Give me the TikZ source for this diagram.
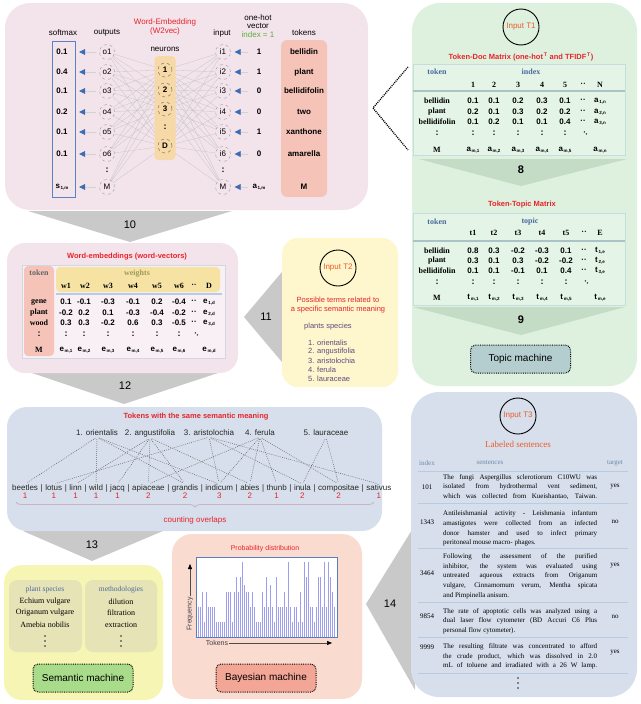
\documentclass[tikz,border=0pt]{standalone}
\usepackage{fontspec}
\setmainfont{Liberation Sans}
\newfontfamily\serf{Liberation Serif}
\usetikzlibrary{arrows.meta,positioning,decorations.pathreplacing,calc}
\newcommand\fsz[1]{\fontsize{#1}{#1}\selectfont}
\newcommand\fszb[2]{\fontsize{#1}{#2}\selectfont}
\newcommand\sbs[1]{\raisebox{-1pt}{\fontsize{4.5}{5}\selectfont\,#1}}
\newcommand\jl[1]{\makebox[154pt][s]{#1}}
\definecolor{pinkbg}{HTML}{F3E4EB}
\definecolor{greenbg}{HTML}{DDF1DE}
\definecolor{tabfill}{HTML}{E4F4E6}
\definecolor{tabborder}{HTML}{C6DCDE}
\definecolor{hlinec}{HTML}{A9C3C6}
\definecolor{chev}{HTML}{C4DBC6}
\definecolor{topicfill}{HTML}{B4CDCE}
\definecolor{yellowbg}{HTML}{FEF6CC}
\definecolor{tokensbg}{HTML}{D6DFEB}
\definecolor{semanticbg}{HTML}{F6F5B3}
\definecolor{semin}{HTML}{E6E3B6}
\definecolor{semgreen}{HTML}{A8DC8A}
\definecolor{bayesbg}{HTML}{FADBD0}
\definecolor{bayesbox}{HTML}{F3A596}
\definecolor{arrowgray}{HTML}{C9C9C9}
\definecolor{tokfill}{HTML}{F5C3B8}
\definecolor{neufill}{HTML}{F6D9A6}
\definecolor{arrowblue}{HTML}{3C6DB4}
\definecolor{softblue}{HTML}{5A82BE}
\definecolor{headblue}{HTML}{4A6A9E}
\definecolor{redtxt}{HTML}{E8232A}
\definecolor{inred}{HTML}{EE5A2A}
\definecolor{idxgreen}{HTML}{5BAE3E}
\definecolor{purpletxt}{HTML}{5D4D80}
\definecolor{weightfill}{HTML}{F6E2A2}
\definecolor{weighttxt}{HTML}{9B9A5E}
\definecolor{barfill}{HTML}{9E9EF0}
\definecolor{chartborder}{HTML}{5A7DBE}
\definecolor{bracecol}{HTML}{C9B3C4}
\definecolor{sepline}{HTML}{B8CBE0}
\definecolor{weborder}{HTML}{D0D8E4}
\pgfdeclarelayer{panels}
\pgfdeclarelayer{links}
\pgfsetlayers{panels,links,main}
\tikzset{
 every node/.style={inner sep=1pt},
 hdr/.style={font=\fsz{8}},
 bv/.style={font=\fsz{8}\bfseries},
 outc/.style={circle,draw=gray!75,dashed,fill=pinkbg,minimum size=15pt,inner sep=0pt,font=\fsz{8}},
 neu/.style={circle,draw=black!60,dashed,fill=neufill,minimum size=14pt,inner sep=0pt,font=\fsz{8}\bfseries},
 barrow/.style={draw=gray!35,line width=0.7pt,-{Triangle[length=6pt,width=6pt,color=arrowblue]}},
 nnline/.style={draw=gray!45,line width=0.3pt},
 tlab/.style={font=\serf\fsz{8}\bfseries},
 thd/.style={font=\serf\fsz{8}\bfseries,text=headblue},
 tcell/.style={font=\fsz{8}\bfseries},
 dotc/.style={font=\fsz{9}\bfseries},
 ttl/.style={font=\fsz{7.5}\bfseries,text=redtxt},
 gnum/.style={font=\fsz{11}},
 machine/.style={draw=black,line width=1pt,dash pattern=on 0.8pt off 1pt,rounded corners=5pt,minimum width=100pt,minimum height=28pt,font=\fsz{10}},
 incirc/.style={circle,draw=black,line width=0.9pt,minimum size=36pt,inner sep=0pt,font=\fsz{8},text=inred},
 dotlink/.style={draw=gray!75!black,line width=0.5pt,dash pattern=on 0.8pt off 1.2pt,shorten <=2pt,shorten >=2pt},
 tk/.style={font=\fsz{8},inner sep=0pt,text=black!85},
 cnt/.style={font=\fsz{8},text=redtxt},
 ser/.style={font=\serf\fszb{7}{9.7},align=left,inner sep=0pt,anchor=west},
 serc/.style={font=\serf\fsz{7}},
 plist/.style={font=\fsz{7.5},text=purpletxt,anchor=west},
 semtxt/.style={font=\serf\fsz{8}},
 semhd/.style={font=\serf\fsz{7.5},text=headblue},
 vdot/.style={fill=black!85},
}
\begin{document}
\begin{tikzpicture}[x=1pt,y=-1pt]
\useasboundingbox (0,0) rectangle (640,704);

\begin{pgfonlayer}{panels}
 \fill[arrowgray] (28,211) -- (232,211) -- (130,242) -- cycle;
 \fill[arrowgray] (32,373) -- (218,373) -- (124,404) -- cycle;
 \fill[arrowgray] (292,260) -- (292,374) -- (244,317) -- cycle;
 \fill[arrowgray] (23,531) -- (163,531) -- (92,561) -- cycle;
 \fill[arrowgray] (415,525) -- (415,690) -- (366,604) -- cycle;
 \fill[pinkbg, rounded corners=25pt] (5,3) rectangle (368,210);
 \fill[greenbg, rounded corners=28pt] (412,3) rectangle (637,386);
 \fill[pinkbg, rounded corners=18pt] (7,243) rectangle (238,373);
 \fill[yellowbg, rounded corners=16pt] (282,238) rectangle (398,387);
 \fill[tokensbg, rounded corners=20pt] (7,407) rectangle (382,531);
 \fill[semanticbg, rounded corners=18pt] (4,565) rectangle (163,700);
 \fill[bayesbg, rounded corners=20pt] (172,534) rectangle (362,699);
 \fill[tokensbg, rounded corners=28pt] (411,392) rectangle (637,697);
\end{pgfonlayer}

% arrow numbers
\node[gnum] (a10) at (130,225) {10};
\node[gnum] (a11) at (266,317) {11};
\node[gnum] (a12) at (125,386) {12};
\node[gnum] (a13) at (92,545) {13};
\node[gnum] (a14) at (390,604) {14};

% ================= Word embedding network =================
\node[hdr, text=redtxt, align=center, font=\fszb{8}{9}] (w2v) at (165,27) {Word-Embedding\\(W2vec)};
\node[hdr] (smx) at (63,33) {softmax};
\node[hdr] (outs) at (107,33) {outputs};
\node[hdr] (neur) at (165,49) {neurons};
\node[hdr] (inp) at (222,33) {input};
\node[hdr, align=center, font=\fszb{8}{8.5}] (oh) at (258,26) {one-hot\\vector\\\textcolor{idxgreen}{index = 1}};
\node[hdr] (tokh) at (304,33) {tokens};

\node[draw=softblue, line width=0.8pt, minimum width=23pt, minimum height=156pt, inner sep=0pt] (smbox) at (63.5,119) {};
\node[fill=tokfill, rounded corners=6pt, minimum width=46pt, minimum height=157pt, inner sep=0pt] (tokbox) at (304,118.5) {};
\node[fill=neufill, rounded corners=4pt, minimum width=21pt, minimum height=104pt, inner sep=0pt] (neubox) at (165,108) {};

\foreach \y/\o/\ii/\s/\v/\t [count=\k] in {52/o1/i1/0.1/1/bellidin, 72/o2/i2/0.4/1/plant, 91/o3/i3/0.1/0/bellidifolin, 112/o4/i4/0.2/0/two, 132/o5/i5/0.1/1/xanthone, 154/o6/i6/0.1/0/amarella, 187/M/M/{s\sbs{1,m}}/{a\sbs{1,m}}/M} {
  \node[outc] (o\k) at (107,\y) {\o};
  \node[outc] (i\k) at (223,\y) {\ii};
  \node[bv, minimum width=20pt] (s\k) at (62,\y) {\s};
  \node[bv, minimum width=20pt] (v\k) at (259,\y) {\v};
  \node[bv] (t\k) at (304,\y) {\t};
  \draw[barrow, shorten <=3pt, shorten >=7pt] (o\k) -- (s\k);
  \draw[barrow, shorten <=1pt, shorten >=4pt] (v\k) -- (i\k);
}
\foreach \b/\y in {1/70,2/90,3/109,D/146} \node[neu] (n\b) at (165,\y) {\b};
\node[dotc] (odots) at (107,170) {:};
\node[dotc] (idots) at (223,170) {:};
\node[dotc] (ndots) at (165,127) {:};
\begin{pgfonlayer}{links}
\foreach \a in {1,...,7} \foreach \b in {1,2,3,D} {
  \draw[nnline] (o\a) -- (n\b);
  \draw[nnline] (n\b) -- (i\a);
}
\end{pgfonlayer}

% zoom triangle
\coordinate (zt) at (408,67);
\coordinate (zm) at (373,108);
\coordinate (zb) at (408,150);
\draw[line width=1.3pt, dash pattern=on 1pt off 1pt] (zt) -- (zm) -- (zb);

% ================= Green panel =================
\node[incirc] (in1) at (521,27) {Input T1};
\node[ttl] (tdm) at (521,57) {Token-Doc Matrix (one-hot\textsuperscript{\,T} and TFIDF\textsuperscript{\,T})};
\draw[tabborder, fill=tabfill, line width=0.6pt] (413,64) rectangle (625,155);
\draw[hlinec, line width=1.6pt] (413,91) -- (625,91);
\node[thd] (tdtok) at (437,72) {token};
\node[thd] (tdidx) at (531,72) {index};
\foreach \h [count=\c] in {1,2,3,4,5,··,N} {
  \pgfmathsetmacro\xx{{473,494,518,542,565,583,600}[\c-1]}
  \node[tlab] (dh\c) at (\xx,85) {\h};
}
\foreach \y/\lab/\vals [count=\r] in {101/bellidin/{0.1,0.1,0.2,0.3,0.1,··,{a\sbs{1,n}}}, 112/plant/{0.2,0.1,0.3,0.2,0.2,··,{a\sbs{2,n}}}, 122/bellidifolin/{0.1,0.2,0.1,0.1,0.4,··,{a\sbs{3,n}}}, 150/M/{{a\sbs{m,1}},{a\sbs{m,2}},{a\sbs{m,3}},{a\sbs{m,4}},{a\sbs{m,5}},{},{a\sbs{m,n}}}} {
  \node[tlab] (dl\r) at (437,\y) {\lab};
  \foreach \v [count=\c] in \vals {
    \pgfmathsetmacro\xx{{473,494,518,542,565,583,600}[\c-1]}
    \node[tcell] (d\r-\c) at (\xx,\y) {\v};
  }
}
\foreach \x [count=\c] in {437,473,494,518,542,565} \node[dotc] (dd\c) at (\x,133) {:};
\node[tcell, rotate=-45] (ddg) at (585,134) {··};
\fill[chev] (419,159) -- (627,159) -- (521,186) -- cycle;
\node[gnum, font=\fsz{11}\bfseries] (n8) at (521,170) {8};

\node[ttl] (ttm) at (522,205) {Token-Topic Matrix};
\draw[tabborder, fill=tabfill, line width=0.6pt] (413,213) rectangle (625,305);
\draw[hlinec, line width=1.6pt] (413,241) -- (625,241);
\node[thd] (tttok) at (437,222) {token};
\node[thd] (tttop) at (530,222) {topic};
\foreach \h [count=\c] in {t1,t2,t3,t4,t5,··,E} {
  \pgfmathsetmacro\xx{{473,494,518,542,566,584,600}[\c-1]}
  \node[tlab] (th\c) at (\xx,233) {\h};
}
\foreach \y/\lab/\vals [count=\r] in {251/bellidin/{0.8,0.3,-0.2,-0.3,0.1,··,{t\sbs{1,e}}}, 261/plant/{0.3,0.1,0.3,-0.2,-0.2,··,{t\sbs{2,e}}}, 271/bellidifolin/{0.1,0.1,-0.1,0.1,0.4,··,{t\sbs{3,e}}}, 298/M/{{t\sbs{m,1}},{t\sbs{m,2}},{t\sbs{m,3}},{t\sbs{m,4}},{t\sbs{m,5}},{},{t\sbs{m,e}}}} {
  \node[tlab] (tl\r) at (437,\y) {\lab};
  \foreach \v [count=\c] in \vals {
    \pgfmathsetmacro\xx{{473,494,518,542,566,584,600}[\c-1]}
    \node[tcell] (t\r-\c) at (\xx,\y) {\v};
  }
}
\foreach \x [count=\c] in {437,473,494,518,542,566} \node[dotc] (td\c) at (\x,282) {:};
\node[tcell, rotate=-45] (tdg) at (586,283) {··};
\fill[chev] (413,307) -- (625,307) -- (521,335) -- cycle;
\node[gnum, font=\fsz{11}\bfseries] (n9) at (521,320) {9};
\node[machine, fill=topicfill] (topic) at (520.5,359) {Topic machine};

% ================= Word-embeddings table =================
\node[ttl] (wet) at (127,257) {Word-embeddings (word-vectors)};
\draw[weborder, fill=white!45!pinkbg, line width=0.6pt] (22,265) rectangle (225,358);
\fill[tokfill, rounded corners=4pt] (24,266) rectangle (54,356);
\fill[weightfill, rounded corners=4pt] (56,267) rectangle (220,292);
\draw[sepline, line width=1.2pt] (56,294) -- (222,294);
\node[tlab, text=black!60] (wtok) at (39,273) {token};
\node[tlab, text=weighttxt] (wwt) at (137,274) {weights};
\foreach \h [count=\c] in {w1,w2,w3,w4,w5,w6,··,D} {
  \pgfmathsetmacro\xx{{66,85,108,133,157,179,194,209}[\c-1]}
  \node[tlab] (wh\c) at (\xx,286) {\h};
}
\foreach \y/\lab/\vals [count=\r] in {302/gene/{0.1,-0.1,-0.3,-0.1,0.2,-0.4,··,{e\sbs{1,d}}}, 313/plant/{-0.2,0.2,0.1,-0.3,-0.4,-0.2,··,{e\sbs{2,d}}}, 323/wood/{0.3,0.3,-0.2,0.6,0.3,-0.5,··,{e\sbs{3,d}}}, 350/M/{{e\sbs{m,1}},{e\sbs{m,2}},{e\sbs{m,3}},{e\sbs{m,4}},{e\sbs{m,5}},{e\sbs{m,6}},{},{e\sbs{m,d}}}} {
  \node[tlab] (wl\r) at (39,\y) {\lab};
  \foreach \v [count=\c] in \vals {
    \pgfmathsetmacro\xx{{66,84,108,133,157,179,194,209}[\c-1]}
    \node[tcell] (w\r-\c) at (\xx,\y) {\v};
  }
}
\foreach \x [count=\c] in {39,66,84,108,133,157,179} \node[dotc] (wd\c) at (\x,334) {:};
\node[tcell, rotate=-45] (wdg) at (196,335) {··};

% ================= Input T2 =================
\node[incirc] (in2) at (338,268) {Input T2};
\node[font=\fszb{7.5}{9.5}, text=redtxt, align=center] (pt) at (338,305) {Possible terms related to\\a specific semantic meaning};
\node[plist] (ps) at (303,327) {plants species};
\foreach \w/\y [count=\k] in {1. orientalis/343, 2. angustifolia/352, 3. aristolochia/361, 4. ferula/370, 5. lauraceae/379}
  \node[plist] (pl\k) at (307,\y) {\w};

% ================= Tokens with same meaning =================
\node[ttl] (tsm) at (196,417) {Tokens with the same semantic meaning};
\foreach \w/\x [count=\k] in {1. orientalis/97, 2. angustifolia/150, 3. aristolochia/209, 4. ferula/260, 5. lauraceae/326}
  \node[tk, inner sep=1pt] (q\k) at (\x,433) {\w};
\node[tk, anchor=base west] (b1) at (12,490) {beetles};
\foreach \w [count=\k from 2, remember=\k as \p (initially 1)] in {lotus,linn,wild,jacq,apiaceae,grandis,indicum,abies,thunb,inula,compositae,sativus} {
  \node[tk, anchor=base west] (bar\p) at (b\p.base east) {\kern2.2pt|\kern2.2pt};
  \node[tk, anchor=base west] (b\k) at (bar\p.base east) {\w};
}
\coordinate (cntl) at (0,496);
\foreach \k/\n in {1/1,2/1,3/1,4/1,5/1,6/2,7/2,8/3,9/2,10/1,11/2,12/2,13/1}
  \node[cnt] (c\k) at (b\k.center |- cntl) {\n};
\begin{pgfonlayer}{links}
\foreach \a/\b in {1/1,3/2,2/3,1/4,2/5,2/6,4/6,1/7,2/7,1/8,3/8,4/8,4/9,2/9,4/10,3/11,5/11,4/12,5/12,3/13}
  \draw[dotlink] (q\a.south) -- (b\b.north);
\end{pgfonlayer}
\coordinate (brR) at (374,502);
\coordinate (brL) at (16,502);
\draw[bracecol, line width=0.8pt, decorate, decoration={brace, amplitude=5pt}] (brR) -- (brL);
\node[cnt] (cov) at (195,520) {counting overlaps};

% ================= Semantic machine =================
\fill[semin, rounded corners=8pt] (9,580) rectangle (82,652);
\fill[semin, rounded corners=8pt] (85,580) rectangle (157,652);
\node[semhd] (sph) at (45,590) {plant species};
\node[semhd] (mth) at (121,590) {methodologies};
\foreach \w/\y [count=\k] in {Echium vulgare/602, Origanum vulgare/613, Amebia nobilis/625}
  \node[semtxt] (sp\k) at (45,\y) {\w};
\foreach \w/\y [count=\k] in {dilution/602, filtration/613, extraction/625}
  \node[semtxt] (me\k) at (121,\y) {\w};
\foreach \x in {45,121} \foreach \y in {636,641,646} \fill[vdot] (\x,\y) circle (0.9);
\node[machine, fill=semgreen] (sem) at (83,678) {Semantic machine};

% ================= Bayesian machine =================
\node[font=\fsz{7}, text=redtxt] (pd) at (265,549) {Probability distribution};
\node[fill=white, minimum width=140pt, minimum height=79pt, inner sep=0pt] (chart) at (267,597.5) {};
\foreach \h [count=\k from 0] in {30,30,45,15,45,30,30,30,30,15,15,15,15,15,45,45,45,15,45,60,45,60,75,52,45,45,30,45,30,15,15,15,45,30,60,30,52,30,15,60,30,30,30,45,30,75,30,15,30,30,15,45,15,75,60,75,30,30,15,30,60,60,30,75,30,75,60,45,30}
  \fill[barfill] ({198.3+2*\k-0.8},636.6) rectangle ({198.3+2*\k+0.8},{636.6-\h});
\draw[chartborder, line width=0.8pt] (chart.south west) rectangle (chart.north east);
\node[font=\fsz{7}, text=black!75, rotate=90] (freq) at (190,614) {Frequency};
\coordinate (ytip) at (190,564);
\draw[black!70, line width=0.5pt, -{Triangle[length=5pt,width=4pt,color=black]}] (freq.east) -- (ytip);
\node[font=\fsz{7}, text=black!75] (tokx) at (217,643) {Tokens};
\coordinate (xtip) at (332,643);
\draw[black!70, line width=0.5pt, -{Triangle[length=5pt,width=4pt,color=black]}] (tokx.east) -- (xtip);
\node[machine, fill=bayesbox] (bay) at (266,678) {Bayesian machine};

% ================= Input T3 =================
\node[incirc] (in3) at (518,416) {Input T3};
\node[font=\serf\fsz{9}, text=inred] (ls) at (518,444) {Labeled sentences};
\node[serc, text=headblue!80] (hidx) at (427,463) {index};
\node[serc, text=headblue!80] (hsen) at (490,463) {sentences};
\node[serc, text=headblue!80] (htgt) at (615,463) {target};
\draw[sepline, line width=1pt] (418,471) -- (628,471);
\foreach \y in {503,548,602,637,673} \draw[sepline, line width=0.8pt] (418,\y) -- (628,\y);

\node[serc] (x1) at (427,487) {101};
\node[ser] (r1) at (443,487) {\jl{The fungi Aspergillus sclerotiorum C10WU was}\\\jl{isolated from hydrothermal vent sediment,}\\\jl{which was collected from Kueishantao, Taiwan.}};
\node[serc] (g1) at (615,487) {yes};

\node[serc] (x2) at (427,522) {1343};
\node[ser] (r2) at (443,528.5) {\jl{Antileishmanial activity - Leishmania infantum}\\\jl{amastigotes were collected from an infected}\\\jl{donor hamster and used to infect primary}\\peritoneal mouse macro- phages.};
\node[serc] (g2) at (615,522) {no};

\node[serc] (x3) at (427,573) {3464};
\node[ser] (r3) at (443,576) {\jl{Following the assessment of the purified}\\\jl{inhibitor, the system was evaluated using}\\\jl{untreated aqueous extracts from Origanum}\\\jl{vulgare, Cinnamomum verum, Mentha spicata}\\and Pimpinella anisum.};
\node[serc] (g3) at (615,566) {yes};

\node[serc] (x4) at (427,616) {9854};
\node[ser] (r4) at (443,621) {\jl{The rate of apoptotic cells was analyzed using a}\\\jl{dual laser flow cytometer (BD Accuri C6 Plus}\\personal flow cytometer).};
\node[serc] (g4) at (615,617) {no};

\node[serc] (x5) at (427,647) {9999};
\node[ser] (r5) at (443,656.5) {\jl{The resulting filtrate was concentrated to afford}\\\jl{the crude product, which was dissolved in 2.0}\\\jl{mL of toluene and irradiated with a 26 W lamp.}};
\node[serc] (g5) at (615,653) {yes};
\foreach \y in {678,683,688} \fill[vdot] (518,\y) circle (0.9);
\end{tikzpicture}
\end{document}
